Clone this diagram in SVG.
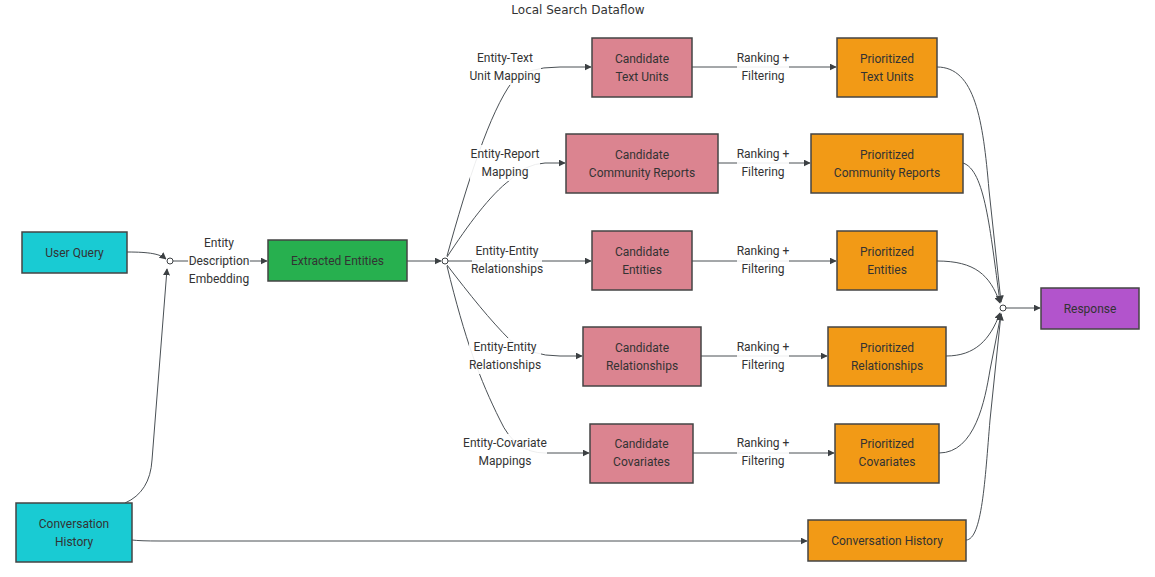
<svg xmlns="http://www.w3.org/2000/svg" width="1155" height="577" viewBox="0 0 1155 577">
<defs>
<marker id="arr" viewBox="0 0 10 10" refX="9" refY="5" markerWidth="7" markerHeight="7" markerUnits="userSpaceOnUse" orient="auto">
<path d="M0,0 L10,5 L0,10 z" fill="#3c4043"/>
</marker>
<style>
.node rect{stroke:#444;stroke-width:1.5}
.node text,.lbl text{font-family:Roboto,"Liberation Sans",sans-serif;font-size:12px;fill:#333;text-anchor:middle;dominant-baseline:central}
.cyan{fill:#19cbd3}
.green{fill:#27b04f}
.pink{fill:#db8490}
.orange{fill:#f29a16}
.purple{fill:#b254cc}
.edges path{fill:none;stroke:#4a5055;stroke-width:1;marker-end:url(#arr)}
.lbl rect{fill:#fff;opacity:0.9}
.junc{fill:#fff;stroke:#3c4043;stroke-width:1}
.title{font-family:"DejaVu Sans",Verdana,sans-serif;font-size:12px;fill:#333;text-anchor:middle}
</style>
</defs>
<rect width="1155" height="577" fill="#fff"/>
<text class="title" x="578" y="14">Local Search Dataflow</text>

<g id="connectors" class="edges">
<path d="M127,252 C150,252 160,254 166,259"/>
<path d="M125,503 Q150,492 152,460 L167,269"/>
<path d="M173,261 L267,261"/>
<path d="M407,261 L441,261"/>
<path d="M447,256 C468,180 490,112 512,82 Q525,67 560,67 L591,67"/>
<path d="M447,257 C468,225 490,195 510,180 Q525,164 545,163 L565,163"/>
<path d="M448,261 L591,261"/>
<path d="M447,265 C470,295 490,320 510,340 Q530,356 560,356 L582,356"/>
<path d="M447,266 C465,340 480,380 500,420 Q515,453 545,453 L589,453"/>
<path d="M692,67 L836,67"/>
<path d="M718,163 L810,163"/>
<path d="M692,261 L836,261"/>
<path d="M701,356 L827,356"/>
<path d="M693,453 L834,453"/>
<path d="M937,67 C975,67 983,120 989,190 L1001,302"/>
<path d="M963,163 C985,170 990,230 1000,302"/>
<path d="M937,261 C975,261 990,275 1000,303"/>
<path d="M946,356 C975,356 990,340 1000,313"/>
<path d="M939,453 C975,453 985,400 990,370 L1001,314"/>
<path d="M966,540 C982,540 985,480 990,420 L1001,314"/>
<path d="M1006,308 L1040,308"/>
<path d="M132,540 Q140,541 160,541 L807,541"/>
</g>

<circle class="junc" cx="170" cy="261" r="3"/>
<circle class="junc" cx="445" cy="261" r="3"/>
<circle class="junc" cx="1003" cy="308" r="3"/>

<g class="lbl">
<rect x="188" y="233" width="62" height="56"/>
<text x="219" y="243">Entity</text><text x="219" y="261">Description</text><text x="219" y="279">Embedding</text>
<rect x="470" y="49" width="71" height="36"/>
<text x="505" y="58">Entity-Text</text><text x="505" y="76">Unit Mapping</text>
<rect x="470" y="145" width="70" height="36"/>
<text x="505" y="154">Entity-Report</text><text x="505" y="172">Mapping</text>
<rect x="472" y="242" width="70" height="36"/>
<text x="507" y="251">Entity-Entity</text><text x="507" y="269">Relationships</text>
<rect x="469" y="338" width="72" height="36"/>
<text x="505" y="347">Entity-Entity</text><text x="505" y="365">Relationships</text>
<rect x="463" y="434" width="84" height="36"/>
<text x="505" y="443">Entity-Covariate</text><text x="505" y="461">Mappings</text>
<rect x="737" y="49" width="52" height="36"/>
<text x="763" y="58">Ranking +</text><text x="763" y="76">Filtering</text>
<rect x="737" y="145" width="52" height="36"/>
<text x="763" y="154">Ranking +</text><text x="763" y="172">Filtering</text>
<rect x="737" y="242" width="52" height="36"/>
<text x="763" y="251">Ranking +</text><text x="763" y="269">Filtering</text>
<rect x="737" y="338" width="52" height="36"/>
<text x="763" y="347">Ranking +</text><text x="763" y="365">Filtering</text>
<rect x="737" y="434" width="52" height="36"/>
<text x="763" y="443">Ranking +</text><text x="763" y="461">Filtering</text>
</g>

<g id="user-query" class="node"><rect class="cyan" x="22" y="232" width="105" height="41"/><text x="74.5" y="252.5">User Query</text></g>
<g id="conv-history-in" class="node"><rect class="cyan" x="16" y="503" width="116" height="59"/><text x="74" y="523.5">Conversation</text><text x="74" y="541.5">History</text></g>
<g id="extracted-entities" class="node"><rect class="green" x="268" y="240" width="139" height="41"/><text x="337.5" y="260.5">Extracted Entities</text></g>
<g id="cand-text-units" class="node"><rect class="pink" x="592" y="38" width="100" height="59"/><text x="642" y="58.5">Candidate</text><text x="642" y="76.5">Text Units</text></g>
<g id="cand-community-reports" class="node"><rect class="pink" x="566" y="134" width="152" height="59"/><text x="642" y="154.5">Candidate</text><text x="642" y="172.5">Community Reports</text></g>
<g id="cand-entities" class="node"><rect class="pink" x="592" y="231" width="100" height="59"/><text x="642" y="251.5">Candidate</text><text x="642" y="269.5">Entities</text></g>
<g id="cand-relationships" class="node"><rect class="pink" x="583" y="327" width="118" height="59"/><text x="642" y="347.5">Candidate</text><text x="642" y="365.5">Relationships</text></g>
<g id="cand-covariates" class="node"><rect class="pink" x="590" y="424" width="103" height="59"/><text x="641.5" y="443.5">Candidate</text><text x="641.5" y="461.5">Covariates</text></g>
<g id="prio-text-units" class="node"><rect class="orange" x="837" y="38" width="100" height="59"/><text x="887" y="58.5">Prioritized</text><text x="887" y="76.5">Text Units</text></g>
<g id="prio-community-reports" class="node"><rect class="orange" x="811" y="134" width="152" height="59"/><text x="887" y="154.5">Prioritized</text><text x="887" y="172.5">Community Reports</text></g>
<g id="prio-entities" class="node"><rect class="orange" x="837" y="231" width="100" height="59"/><text x="887" y="251.5">Prioritized</text><text x="887" y="269.5">Entities</text></g>
<g id="prio-relationships" class="node"><rect class="orange" x="828" y="327" width="118" height="59"/><text x="887" y="347.5">Prioritized</text><text x="887" y="365.5">Relationships</text></g>
<g id="prio-covariates" class="node"><rect class="orange" x="835" y="424" width="104" height="59"/><text x="887" y="443.5">Prioritized</text><text x="887" y="461.5">Covariates</text></g>
<g id="conv-history-out" class="node"><rect class="orange" x="808" y="520" width="158" height="41"/><text x="887" y="540.5">Conversation History</text></g>
<g id="response" class="node"><rect class="purple" x="1041" y="288" width="98" height="41"/><text x="1090" y="308.5">Response</text></g>
</svg>
